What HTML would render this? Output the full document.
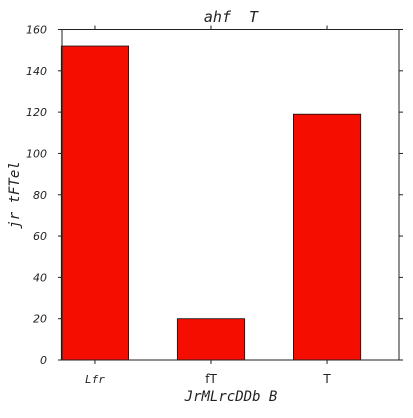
<!DOCTYPE html>
<html><head><meta charset="utf-8"><style>
html,body{margin:0;padding:0;background:#fff;}
svg text{fill:#222;}
</style></head><body>
<svg width="413" height="413" viewBox="0 0 413 413">
<g id="chart"></g>
</svg>
<script>
const categories = ["Lfr", "fT", "T"];
const values = [152, 20, 119];
const yTicks = [0, 20, 40, 60, 80, 100, 120, 140, 160];
const NS = "http://www.w3.org/2000/svg";
const g = document.getElementById('chart');
const L = 62, R = 399, T = 29.5, B = 360;
const yMin = 0, yMax = 160;
const xMin = -0.284, xMax = 2.62;
const SANS = 'font-family:"DejaVu Sans","Liberation Sans",sans-serif;';
const MONO = 'font-family:"DejaVu Sans Mono","Liberation Mono",monospace;';
function sx(v){ return L + (v - xMin) / (xMax - xMin) * (R - L); }
function sy(v){ return B - (v - yMin) / (yMax - yMin) * (B - T); }
function el(tag, attrs, text){
  const e = document.createElementNS(NS, tag);
  for (const k in attrs) e.setAttribute(k, attrs[k]);
  if (text !== undefined) e.textContent = text;
  g.appendChild(e);
  return e;
}
const bw = 0.58;
values.forEach((v, i) => {
  const r = el('rect', {x: sx(i - bw/2), y: sy(v), width: sx(i + bw/2) - sx(i - bw/2), height: sy(0) - sy(v), fill: '#f50d00', stroke: '#111', 'stroke-width': 0.8});
  
  
});
const frame = el('rect', {x: L, y: T, width: R - L, height: B - T, fill: 'none', stroke: '#222', 'stroke-width': 1});


yTicks.forEach(t => {
  const y = sy(t);
  el('line', {x1: L - 4, x2: L, y1: y, y2: y, stroke: '#222'});
  el('line', {x1: R, x2: R + 4, y1: y, y2: y, stroke: '#222'});
  const tx = el('text', {x: 47, y: y + 4, 'text-anchor': 'end', style: SANS + 'font-size:11px;font-style:italic;'}, String(t));
  
  
});
categories.forEach((c, i) => {
  const x = sx(i);
  el('line', {x1: x, x2: x, y1: B, y2: B + 4, stroke: '#222'});
  el('line', {x1: x, x2: x, y1: T - 4, y2: T, stroke: '#222'});
  const st = i === 0 ? MONO + 'font-size:11px;font-style:italic;' : SANS + 'font-size:12px;';
  const tx = el('text', {x: x, y: 383, 'text-anchor': 'middle', style: st}, c);
  
  
});
const xt = el('text', {x: 231, y: 401, 'text-anchor': 'middle', style: MONO + 'font-size:14px;font-style:italic;'}, 'JrMLrcDDb B');


const yt = el('text', {x: 0, y: 0, 'text-anchor': 'middle', style: MONO + 'font-size:14px;font-style:italic;', transform: 'translate(19,195) rotate(-90)'}, 'jr tFTel');


const tt = el('text', {x: 231, y: 22, 'text-anchor': 'middle', 'xml:space': 'preserve', style: MONO + 'font-size:15px;font-style:italic;white-space:pre;'}, 'ahf  T');


</script>
</body></html>
